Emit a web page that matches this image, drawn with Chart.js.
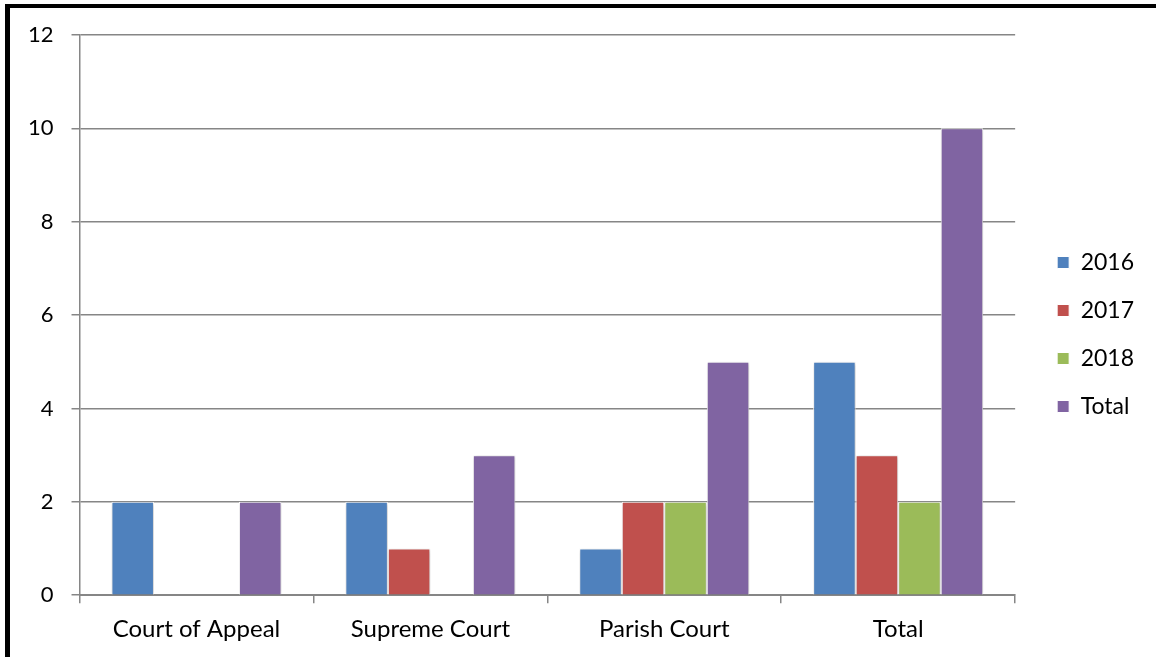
<!DOCTYPE html>
<html>
<head>
<meta charset="utf-8">
<script src="https://cdn.jsdelivr.net/npm/chart.js@4/dist/chart.umd.min.js"></script>
<style>
  html, body { margin: 0; padding: 0; background: #fff; }
  #wrap { position: relative; width: 1156px; height: 657px; overflow: hidden; }
  #frame { position: absolute; left: 5px; top: 4px; width: 1300px; height: 800px;
           border-left: 5px solid #000; border-top: 4px solid #000; pointer-events: none; }
  canvas { position: absolute; left: 0; top: 0; }
</style>
</head>
<body>
<div id="wrap">
  <canvas id="chart" width="1156" height="657"></canvas>
  <div id="frame"></div>
</div>
<script>
var categories = ['Court of Appeal', 'Supreme Court', 'Parish Court', 'Total'];
var seriesNames = ['2016', '2017', '2018', 'Total'];
var values2016 = [2, 2, 1, 5];
var values2017 = [0, 1, 2, 3];
var values2018 = [0, 0, 2, 2];
var valuesTotal = [2, 3, 5, 10];
var colors = ['#4F81BD', '#C0504D', '#9BBB59', '#8064A2'];

var allValues = [values2016, values2017, values2018, valuesTotal];
var datasets = [];
for (var i = 0; i < seriesNames.length; i++) {
  datasets.push({
    label: seriesNames[i],
    data: allValues[i],
    backgroundColor: colors[i],
    borderColor: '#ffffff',
    borderWidth: 1,
    barPercentage: 1,
    categoryPercentage: 0.727
  });
}

// soft shadow behind the bars, like the office chart
const barShadow = {
  id: 'barShadow',
  beforeDatasetsDraw(chart) {
    const ctx = chart.ctx;
    ctx.save();
    ctx.shadowColor = 'rgba(0,0,0,0.25)';
    ctx.shadowBlur = 4;
    ctx.shadowOffsetX = 1;
    ctx.shadowOffsetY = 1;
  },
  afterDatasetsDraw(chart) {
    chart.ctx.restore();
  }
};

// nudge the legend block to where the original sits
const legendNudge = {
  id: 'legendNudge',
  afterLayout(chart) {
    const lg = chart.legend;
    if (!lg) return;
    lg.left += 17; lg.right += 17;
    lg.top -= 11; lg.bottom -= 11;
  }
};

const fontFamily = 'Lato, "Open Sans", sans-serif';
const ctx = document.getElementById('chart').getContext('2d');
let chart = new Chart(ctx, {
  type: 'bar',
  data: {
    labels: categories,
    datasets: datasets
  },
  plugins: [barShadow, legendNudge],
  options: {
    responsive: false,
    animation: false,
    layout: {
      padding: { left: 10, top: 35, right: 29, bottom: 1 }
    },
    plugins: {
      legend: {
        position: 'right',
        labels: {
          boxWidth: 12,
          boxHeight: 12,
          padding: 25,
          color: '#000',
          font: { family: fontFamily, size: 23 }
        }
      },
      tooltip: { enabled: false }
    },
    scales: {
      x: {
        grid: {
          offset: true,
          drawOnChartArea: false,
          drawTicks: true,
          tickLength: 8,
          color: '#868686',
          lineWidth: 1.5
        },
        border: { display: true, color: '#868686', width: 2 },
        ticks: {
          padding: 12,
          color: '#000',
          font: { family: fontFamily, size: 24 }
        }
      },
      y: {
        min: 0,
        max: 12,
        ticks: {
          stepSize: 2,
          padding: 18,
          color: '#000',
          font: { family: fontFamily, size: 22 }
        },
        grid: {
          color: '#868686',
          lineWidth: 1.5,
          tickLength: 8
        },
        border: { display: true, color: '#868686', width: 1.5 }
      }
    }
  }
});
</script>
</body>
</html>
